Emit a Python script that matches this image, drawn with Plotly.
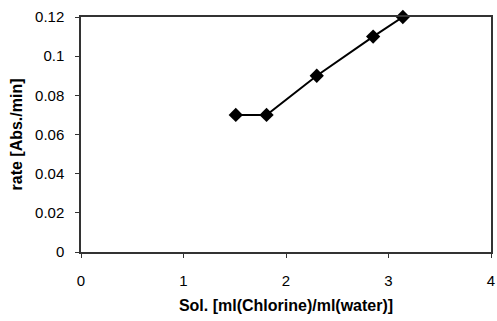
import plotly.graph_objects as go

sol = [1.51, 1.81, 2.30, 2.85, 3.14]
rate = [0.07, 0.07, 0.09, 0.11, 0.12]
x_ticks = [0, 1, 2, 3, 4]
y_ticks = [0, 0.02, 0.04, 0.06, 0.08, 0.1, 0.12]
y_tick_text = ["0", "0.02", "0.04", "0.06", "0.08", "0.1", "0.12"]

fig = go.Figure()
fig.add_trace(go.Scatter(
    x=sol, y=rate, mode="lines+markers",
    line=dict(color="black", width=2),
    marker=dict(symbol="diamond", size=11, color="black"),
    cliponaxis=False,
))

fig.update_layout(
    width=497, height=321,
    margin=dict(l=81, r=2, t=17, b=69),
    paper_bgcolor="white", plot_bgcolor="white",
    showlegend=False,
    font=dict(family="Liberation Sans, Arial, sans-serif", color="black"),
)
fig.update_xaxes(
    range=[0, 4], tickvals=x_ticks, ticktext=[str(v) for v in x_ticks],
    showgrid=False, zeroline=False,
    showline=True, linecolor="#333", linewidth=1.5, mirror=True,
    ticks="outside", ticklen=4, tickcolor="#333",
    ticklabelstandoff=10, ticklabeloverflow="allow",
    tickfont=dict(size=15),
    title=dict(text="<b>Sol. [ml(Chlorine)/ml(water)]</b>", font=dict(size=16), standoff=12),
)
fig.update_yaxes(
    range=[0, 0.12], tickvals=y_ticks, ticktext=y_tick_text,
    showgrid=False, zeroline=False,
    showline=True, linecolor="#333", linewidth=1.5, mirror=True,
    ticks="outside", ticklen=4, tickcolor="#333",
    ticklabelstandoff=8,
    tickfont=dict(size=15),
    title=dict(text="<b>rate [Abs./min]</b>", font=dict(size=16), standoff=8),
)

fig.write_html("out.html")
